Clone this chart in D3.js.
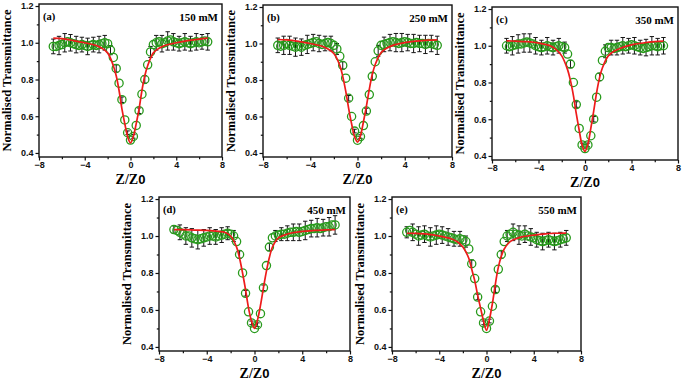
<!DOCTYPE html>
<html>
<head>
<meta charset="utf-8">
<script src="https://cdn.jsdelivr.net/npm/d3@7"></script>
<style>
  body { margin: 0; background: #fff; }
  svg { display: block; }
</style>
</head>
<body>
<div id="chart"></div>
<script>
// Z/Z0 positions of the measured points (shared by all panels)
const zPos = [-6.75, -6.5, -6.25, -6, -5.75, -5.5, -5.25, -5, -4.75, -4.5, -4.25, -4, -3.75, -3.5, -3.25, -3, -2.75, -2.5, -2.25, -2,
  -1.75, -1.5, -1.25, -1, -0.75, -0.5, -0.25, 0, 0.25, 0.5, 0.75, 1, 1.25, 1.5, 1.75,
  2, 2.25, 2.5, 2.75, 3, 3.25, 3.5, 3.75, 4, 4.25, 4.5, 4.75, 5, 5.25, 5.5, 5.75, 6, 6.25, 6.5, 6.75];

// positions of the fitted curve points
const fitZ = [-6.75, -6, -5, -4, -3, -2.5, -2, -1.5, -1.25, -1, -0.75, -0.5, -0.25, 0, 0.25, 0.5, 0.75, 1, 1.25, 1.5, 2, 2.5, 3, 4, 5, 6, 6.75];

const panelLabels = ["(a)", "(b)", "(c)", "(d)", "(e)"];
const concentrations = ["150 mM", "250 mM", "350 mM", "450 mM", "550 mM"];

const xTicks = [-8, -4, 0, 4, 8];
const xMinor = [-6, -2, 2, 6];
const yTicks = [0.4, 0.6, 0.8, 1.0, 1.2];
const yMinor = [0.5, 0.7, 0.9, 1.1];

// normalised transmittance (open circles)
const tA = [0.98, 0.98, 0.985, 0.99, 1.0, 1.005, 1.0, 0.995, 0.99, 0.985, 0.99, 0.985, 0.98, 0.985, 0.99, 0.985, 0.99, 0.995, 1.0, 0.995,
  0.96, 0.92, 0.86, 0.78, 0.69, 0.58, 0.51, 0.47, 0.49, 0.55, 0.63, 0.72, 0.80, 0.88, 0.95,
  0.99, 1.0, 1.005, 0.995, 1.0, 1.01, 1.015, 1.005, 1.0, 0.995, 1.0, 1.005, 1.0, 0.995, 1.0, 1.005, 1.0, 1.005, 1.01, 1.005];
const tB = [0.99, 0.985, 0.99, 1.0, 0.99, 0.985, 0.98, 0.985, 0.98, 0.99, 0.995, 1.0, 1.005, 1.01, 1.0, 0.995, 1.0, 1.005, 1.0, 0.99,
  0.97, 0.93, 0.88, 0.81, 0.70, 0.60, 0.52, 0.47, 0.49, 0.55, 0.63, 0.72, 0.82, 0.90, 0.96,
  0.99, 0.995, 1.0, 1.005, 1.01, 1.005, 1.0, 1.005, 1.01, 1.005, 1.0, 1.0, 1.005, 1.0, 1.0, 0.995, 1.0, 1.0, 0.995, 0.99];
const tC = [1.0, 0.995, 1.0, 1.005, 1.01, 1.01, 1.015, 1.02, 1.015, 1.01, 1.0, 0.995, 0.99, 0.995, 1.0, 0.995, 0.99, 0.995, 1.0, 0.995,
  0.99, 0.955, 0.90, 0.80, 0.68, 0.55, 0.46, 0.44, 0.46, 0.51, 0.60, 0.72, 0.83, 0.92, 0.97,
  0.99, 0.99, 0.985, 0.99, 0.995, 1.0, 0.995, 1.0, 1.005, 1.0, 0.995, 0.99, 0.985, 0.99, 0.995, 1.0, 1.0, 0.995, 1.0, 1.0];
const tD = [1.035, 1.03, 1.02, 1.01, 1.0, 1.0, 0.99, 0.985, 0.98, 0.985, 0.99, 0.995, 1.0, 1.0, 0.995, 1.0, 1.005, 1.01, 1.015, 1.01,
  1.0, 0.97, 0.90, 0.80, 0.69, 0.59, 0.53, 0.50, 0.52, 0.58, 0.72, 0.84, 0.94, 0.99, 1.0,
  1.005, 1.01, 1.01, 1.015, 1.02, 1.02, 1.025, 1.02, 1.025, 1.03, 1.035, 1.04, 1.04, 1.045, 1.04, 1.045, 1.05, 1.05, 1.06, 1.06];
const tE = [1.02, 1.03, 1.02, 1.01, 1.0, 1.005, 1.01, 1.0, 0.995, 1.0, 1.005, 1.01, 1.005, 1.0, 0.995, 0.99, 0.985, 0.98, 0.985, 0.98,
  0.97, 0.93, 0.85, 0.77, 0.67, 0.59, 0.53, 0.50, 0.54, 0.62, 0.71, 0.82, 0.90, 0.97, 1.0,
  1.01, 1.02, 1.01, 1.005, 1.0, 1.01, 1.0, 0.995, 0.99, 0.98, 0.975, 0.97, 0.975, 0.98, 0.975, 0.97, 0.975, 0.98, 0.985, 0.99];

// error bars, given for every second point (zPos[0], zPos[2], ...)
const errA = [0.04, 0.05, 0.05, 0.045, 0.045, 0.04, 0.045, 0.04, 0.045, 0.04, 0.025, 0.02, 0.015, 0.01, 0.01, 0.015, 0.02, 0.03, 0.04, 0.045, 0.05, 0.045, 0.04, 0.045, 0.04, 0.045, 0.04, 0.045];
const errB = [0.04, 0.05, 0.05, 0.05, 0.045, 0.05, 0.045, 0.045, 0.04, 0.04, 0.03, 0.02, 0.015, 0.01, 0.01, 0.015, 0.02, 0.03, 0.04, 0.045, 0.05, 0.05, 0.045, 0.05, 0.045, 0.05, 0.045, 0.05];
const errC = [0.04, 0.05, 0.05, 0.05, 0.05, 0.045, 0.04, 0.045, 0.04, 0.04, 0.03, 0.02, 0.015, 0.01, 0.01, 0.015, 0.02, 0.035, 0.04, 0.04, 0.045, 0.04, 0.045, 0.04, 0.045, 0.05, 0.045, 0.045];
const errD = [0.02, 0.04, 0.045, 0.05, 0.05, 0.045, 0.045, 0.04, 0.04, 0.035, 0.03, 0.02, 0.015, 0.01, 0.01, 0.015, 0.02, 0.03, 0.035, 0.04, 0.045, 0.045, 0.05, 0.045, 0.05, 0.045, 0.05, 0.05];
const errE = [0.03, 0.045, 0.05, 0.045, 0.05, 0.05, 0.045, 0.045, 0.04, 0.04, 0.03, 0.02, 0.015, 0.01, 0.01, 0.015, 0.02, 0.03, 0.045, 0.05, 0.045, 0.045, 0.04, 0.045, 0.04, 0.045, 0.04, 0.04];

// fitted curves (red lines)
const fitA = [1.025, 1.022, 1.012, 1.0, 0.985, 0.97, 0.945, 0.875, 0.82, 0.74, 0.64, 0.56, 0.49, 0.455, 0.49, 0.56, 0.64, 0.74, 0.82, 0.875, 0.945, 0.97, 0.985, 1.0, 1.012, 1.02, 1.025];
const fitB = [1.022, 1.02, 1.012, 1.0, 0.985, 0.97, 0.945, 0.88, 0.82, 0.74, 0.645, 0.56, 0.49, 0.46, 0.495, 0.57, 0.655, 0.75, 0.83, 0.885, 0.95, 0.975, 0.99, 1.005, 1.013, 1.018, 1.02];
const fitC = [1.027, 1.025, 1.022, 1.015, 1.0, 0.98, 0.945, 0.87, 0.81, 0.73, 0.63, 0.54, 0.46, 0.425, 0.465, 0.55, 0.645, 0.745, 0.825, 0.88, 0.945, 0.97, 0.985, 1.005, 1.015, 1.022, 1.025];
const fitD = [1.035, 1.034, 1.032, 1.03, 1.025, 1.02, 1.0, 0.94, 0.88, 0.80, 0.71, 0.61, 0.54, 0.50, 0.545, 0.625, 0.72, 0.81, 0.885, 0.94, 0.99, 1.005, 1.015, 1.025, 1.03, 1.033, 1.035];
const fitE = [1.015, 1.014, 1.01, 1.0, 0.985, 0.97, 0.94, 0.88, 0.82, 0.76, 0.68, 0.61, 0.54, 0.49, 0.55, 0.635, 0.74, 0.83, 0.89, 0.93, 0.97, 0.985, 0.995, 1.005, 1.012, 1.015, 1.016];

const seriesT = [tA, tB, tC, tD, tE];
const seriesErr = [errA, errB, errC, errD, errE];
const seriesFit = [fitA, fitB, fitC, fitD, fitE];

// frame of each panel in page pixels
const frames = [
  { left: 39, right: 222, top: 4, bottom: 157 },
  { left: 263, right: 452, top: 5, bottom: 157 },
  { left: 492, right: 678, top: 7, bottom: 160 },
  { left: 159, right: 350, top: 197, bottom: 351 },
  { left: 392, right: 581, top: 197, bottom: 351 }
];

const green = "#289a1c";
const red = "#ee1b1b";
const serif = "'Liberation Serif', 'Times New Roman', serif";
const sans = "'Liberation Sans', Arial, sans-serif";

const svg = d3.select("#chart")
  .append("svg")
  .attr("width", 685)
  .attr("height", 381);

frames.forEach((f, p) => {
  const x = d3.scaleLinear().domain([-8, 8]).range([f.left, f.right]);
  const y = d3.scaleLinear().domain([0.378, 1.211]).range([f.bottom, f.top]);
  const g = svg.append("g");

  // axes with outward ticks
  g.append("g")
    .attr("transform", `translate(0,${f.bottom})`)
    .call(d3.axisBottom(x).tickValues(xTicks).tickSize(3.5).tickPadding(1).tickFormat(d3.format("d")));
  g.append("g")
    .attr("transform", `translate(0,${f.bottom})`)
    .call(d3.axisBottom(x).tickValues(xMinor).tickSize(2.2).tickFormat(""));
  g.append("g")
    .attr("transform", `translate(${f.left},0)`)
    .call(d3.axisLeft(y).tickValues(yTicks).tickSize(3.5).tickPadding(2).tickFormat(d3.format(".1f")));
  g.append("g")
    .attr("transform", `translate(${f.left},0)`)
    .call(d3.axisLeft(y).tickValues(yMinor).tickSize(2.2).tickFormat(""));

  g.selectAll(".domain").remove();
  g.selectAll(".tick line").attr("stroke", "#111").attr("stroke-width", 1.2);
  g.selectAll(".tick text")
    .attr("fill", "#111")
    .style("font-family", sans)
    .style("font-weight", "bold")
    .style("font-size", "9px");

  // error bars
  const errPts = seriesErr[p].map((e, i) => ({ z: zPos[i * 2], t: seriesT[p][i * 2], e: e }));
  const eb = g.append("g").attr("stroke", "#151515").attr("stroke-width", 1);
  errPts.forEach(d => {
    const cx = x(d.z);
    eb.append("line").attr("x1", cx).attr("x2", cx).attr("y1", y(d.t - d.e)).attr("y2", y(d.t + d.e));
    eb.append("line").attr("x1", cx - 2.2).attr("x2", cx + 2.2).attr("y1", y(d.t - d.e)).attr("y2", y(d.t - d.e));
    eb.append("line").attr("x1", cx - 2.2).attr("x2", cx + 2.2).attr("y1", y(d.t + d.e)).attr("y2", y(d.t + d.e));
  });

  // measured points
  g.append("g")
    .selectAll("circle")
    .data(seriesT[p])
    .enter()
    .append("circle")
    .attr("cx", (d, i) => x(zPos[i]))
    .attr("cy", d => y(d))
    .attr("r", 4.1)
    .attr("fill", "none")
    .attr("stroke", green)
    .attr("stroke-width", 1.3);

  // fit
  const line = d3.line()
    .x((d, i) => x(fitZ[i]))
    .y(d => y(d))
    .curve(d3.curveCatmullRom);
  g.append("path")
    .datum(seriesFit[p])
    .attr("d", line)
    .attr("fill", "none")
    .attr("stroke", red)
    .attr("stroke-width", 1.7);

  // frame
  g.append("rect")
    .attr("x", f.left)
    .attr("y", f.top)
    .attr("width", f.right - f.left)
    .attr("height", f.bottom - f.top)
    .attr("fill", "none")
    .attr("stroke", "#111")
    .attr("stroke-width", 1.4);

  // panel label and concentration
  g.append("text")
    .attr("x", f.left + 4)
    .attr("y", f.top + 16)
    .style("font-family", serif)
    .style("font-weight", "bold")
    .style("font-size", "10.5px")
    .text(panelLabels[p]);
  g.append("text")
    .attr("x", f.right - 4)
    .attr("y", f.top + 17)
    .attr("text-anchor", "end")
    .style("font-family", serif)
    .style("font-weight", "bold")
    .style("font-size", "11px")
    .text(concentrations[p]);

  // axis titles
  const xt = g.append("text")
    .attr("x", (f.left + f.right) / 2)
    .attr("y", f.bottom + 27)
    .attr("text-anchor", "middle")
    .style("font-family", serif)
    .style("font-weight", "bold")
    .style("font-size", "14px")
    .text("Z/Z");
  xt.append("tspan")
    .style("font-family", sans)
    .style("font-size", "13px")
    .text("0");

  g.append("text")
    .attr("transform", `translate(${f.left - 28},${(f.top + f.bottom) / 2}) rotate(-90)`)
    .attr("text-anchor", "middle")
    .style("font-family", serif)
    .style("font-weight", "bold")
    .style("font-size", "12.5px")
    .text("Normalised Transmittance");
});
</script>
</body>
</html>
